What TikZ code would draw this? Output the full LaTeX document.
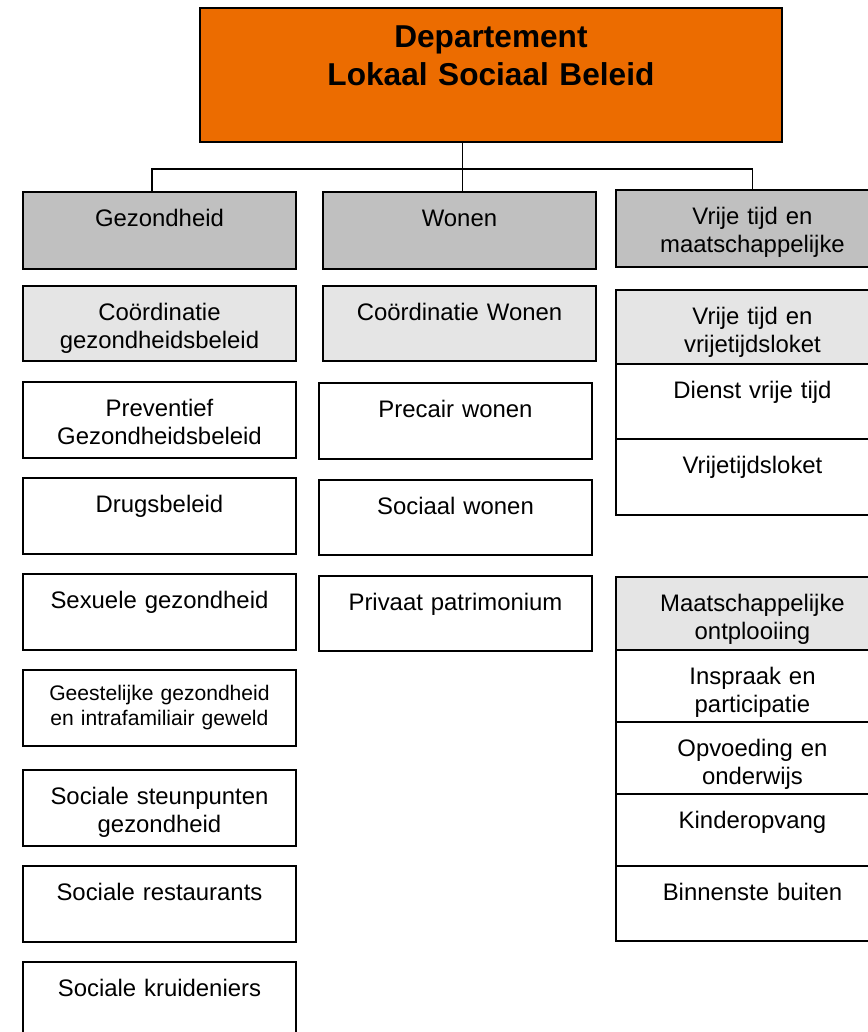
\documentclass[tikz,border=0pt]{standalone}
\usepackage{fontspec}
\setmainfont{Liberation Sans}
\usetikzlibrary{positioning}

\definecolor{deptorange}{RGB}{236,108,0}
\definecolor{headgray}{RGB}{192,192,192}
\definecolor{subgray}{RGB}{229,229,229}
\newcommand{\unitfont}{\fontsize{13.6}{15.9}\selectfont}
\newcommand{\smallunitfont}{\fontsize{12}{14.7}\selectfont}
\newcommand{\deptfont}{\fontsize{18}{21.2}\selectfont\bfseries}

\tikzset{
  unit/.style={draw, line width=1pt, outer sep=0pt, anchor=north west, inner sep=0pt,
    text width=5.46cm, align=center, font=\unitfont, text height=0.69cm, text depth=0.83cm},
  head/.style={fill=headgray},
  sub/.style={fill=subgray},
  dept/.style={draw, line width=1pt, outer sep=0pt, fill=deptorange, anchor=north west, inner sep=0pt,
    text width=11.64cm, align=center, font=\deptfont, text height=0.8cm, text depth=1.88cm},
  link/.style={line width=0.8pt}
}

\begin{document}
\begin{tikzpicture}[x=0.02cm, y=-0.02cm]
		%%%%% START %%%%%
		\useasboundingbox (0,0) rectangle (868,1032);
		\clip (0,0) rectangle (868,1032);
		
		\node[dept] (dept) at (200,8) {Departement\\Lokaal Sociaal Beleid};
		
		% diensten
		\node[unit, head, text depth=0.85cm] (gez) at (23,192) {Gezondheid};
		\node[unit, head, text depth=0.85cm] (won) at (323,192) {Wonen};
		\node[unit, head, text depth=0.85cm] (vtm) at (616,190) {Vrije tijd en\\maatschappelijke};
		
		\coordinate[above=0.46cm of won.north, xshift=0.06cm] (bus);
		\draw[link] (dept.south -| bus) -- (won.north -| bus);
		\draw[link] ([xshift=-0.15cm]gez.north) |- (bus) -| (vtm.north);
		
		% gezondheid
		\node[unit, sub, text depth=0.81cm] (coge) at (23,286) {Co\"ordinatie\\gezondheidsbeleid};
		\node[unit] (prev) at (23,382) {Preventief\\Gezondheidsbeleid};
		\node[unit] (drug) at (23,478) {Drugsbeleid};
		\node[unit] (sex) at (23,574) {Sexuele gezondheid};
		\node[unit, font=\smallunitfont, text height=0.6cm, text depth=0.92cm] (gees) at (23,670) {Geestelijke gezondheid\\en intrafamiliair geweld};
		\node[unit] (steun) at (23,770) {Sociale steunpunten\\gezondheid};
		\node[unit] (rest) at (23,866) {Sociale restaurants};
		\node[unit, text depth=1.2cm] (kruid) at (23,962) {Sociale kruideniers};
		
		% wonen
		\node[unit, sub, text depth=0.81cm] (cowo) at (323,286) {Co\"ordinatie Wonen};
		\node[unit] (prec) at (319,383) {Precair wonen};
		\node[unit, text depth=0.81cm] (soc) at (319,480) {Sociaal wonen};
		\node[unit, text depth=0.81cm] (priv) at (319,576) {Privaat patrimonium};
		
		% vrije tijd
		\node[unit, sub, text depth=0.79cm] (vtl) at (616,290) {Vrije tijd en\\vrijetijdsloket};
		\node[unit, below=0pt of vtl, text depth=0.81cm] (dvt) {Dienst vrije tijd};
		\node[unit, below=0pt of dvt] (loket) {Vrijetijdsloket};
		
		% maatschappelijke ontplooiing
		\node[unit, sub, text depth=0.77cm] (mo) at (616,577) {Maatschappelijke\\ontplooiing};
		\node[unit, below=0pt of mo, text depth=0.75cm] (insp) {Inspraak en\\participatie};
		\node[unit, below=0pt of insp, text depth=0.75cm] (opv) {Opvoeding en\\onderwijs};
		\node[unit, below=0pt of opv, text depth=0.75cm] (kind) {Kinderopvang};
		\node[unit, below=0pt of kind, text depth=0.81cm] (binn) {Binnenste buiten};
		
		%%%%% END %%%%%
	\end{tikzpicture}
\end{document}
